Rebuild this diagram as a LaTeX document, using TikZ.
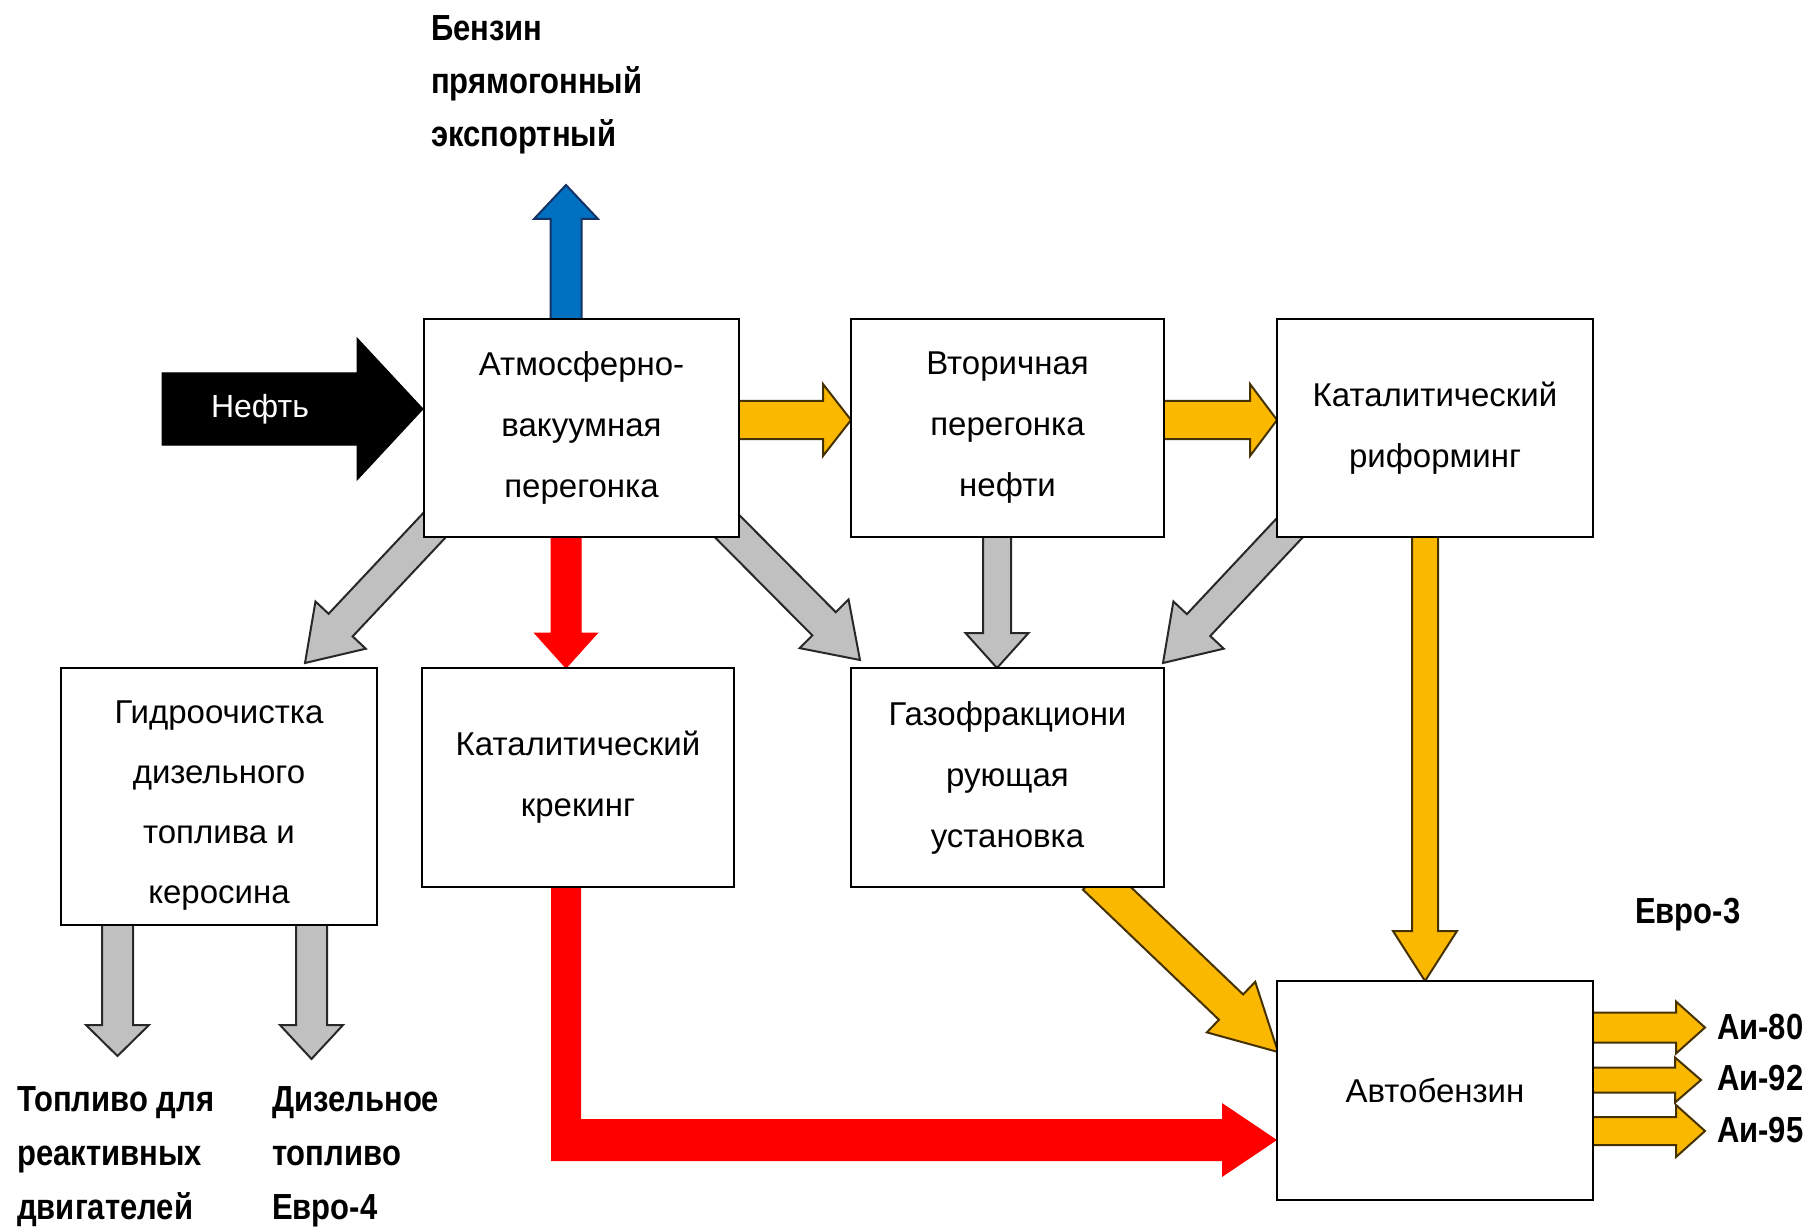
\documentclass[tikz,border=0pt]{standalone}
\usepackage{fontspec}
\usepackage{graphicx}
\setmainfont{Liberation Sans}
\usetikzlibrary{calc}
\pgfdeclarelayer{bg}
\pgfdeclarelayer{arr}
\pgfsetlayers{bg,arr,main}
\definecolor{gold}{RGB}{250,184,0}
\definecolor{goldline}{RGB}{70,50,0}
\definecolor{grayfill}{RGB}{192,192,192}
\definecolor{grayline}{RGB}{40,40,40}
\definecolor{redfill}{RGB}{255,0,0}
\definecolor{bluefill}{RGB}{0,112,192}
\definecolor{blueline}{RGB}{20,50,100}
\newcommand{\tb}[1]{\scalebox{1}[1.17]{#1}}
\tikzset{
  box/.style={draw=black, line width=2pt, fill=white, rectangle, inner sep=0pt, align=center,
    font=\fontsize{33}{61}\selectfont},
  boxtext/.style={inner sep=0pt, align=center, font=\fontsize{33}{60}\selectfont},
  lbl/.style={anchor=west, align=left, inner sep=0pt, font=\bfseries\fontsize{31}{53}\selectfont},
  ya/.style={fill=gold, draw=goldline, line width=2pt},
  ga/.style={fill=grayfill, draw=grayline, line width=2pt},
  ra/.style={fill=redfill, draw=redfill, line width=1pt},
  ba/.style={fill=bluefill, draw=blueline, line width=2pt},
  ka/.style={fill=black, draw=black, line width=1pt},
}
% #1 style, #2 start, #3 tip, #4 half shaft, #5 half head, #6 head length
\newcommand{\fatarrow}[6]{%
  \draw[#1] let \p1=(#2), \p2=(#3), \n1={atan2(\y2-\y1,\x2-\x1)},
      \n2={veclen(\x2-\x1,\y2-\y1)-#6} in
    ($(\p1)+({\n1+90}:#4pt)$)
    -- ($(\p1)+(\n1:{\n2+0pt})+({\n1+90}:#4pt)$)
    -- ($(\p1)+(\n1:{\n2+0pt})+({\n1+90}:#5pt)$)
    -- (\p2)
    -- ($(\p1)+(\n1:{\n2+0pt})+({\n1-90}:#5pt)$)
    -- ($(\p1)+(\n1:{\n2+0pt})+({\n1-90}:#4pt)$)
    -- ($(\p1)+({\n1-90}:#4pt)$) -- cycle;}
\begin{document}
\begin{tikzpicture}[x=1pt,y=-1pt]
\useasboundingbox (0,0) rectangle (1810,1230);
\begin{pgfonlayer}{bg}
  \fill[white] (0,0) rectangle (1810,1230);
\end{pgfonlayer}

% boxes
\node[box, minimum width=315pt, minimum height=218pt] (atm) at (581.5,428) {Атмосферно-\\вакуумная\\перегонка};
\node[box, minimum width=313pt, minimum height=218pt] (vtor) at (1007.5,428) {Вторичная\\перегонка\\нефти};
\node[box, minimum width=316pt, minimum height=218pt] (ref) at (1435,428) {Каталитический\\риформинг};
\node[box, minimum width=316pt, minimum height=257pt] (gidro) at (219,796.5) {};
\node[boxtext] (gidrotext) at ($(gidro.center)+(0,9)$) {Гидроочистка\\дизельного\\топлива и\\керосина};
\node[box, minimum width=312pt, minimum height=219pt] (krek) at (578,777.5) {Каталитический\\крекинг};
\node[box, minimum width=313pt, minimum height=219pt] (gaz) at (1007.5,777.5) {Газофракциони\\рующая\\установка};
\node[box, minimum width=316pt, minimum height=219pt] (avto) at (1435,1090.5) {Автобензин};

% coordinates for arrow ends
\coordinate (neftS) at (162,409);
\coordinate (benzT) at (566,185);
\coordinate (gidroT1) at (117.5,1056);
\coordinate (gidroT2) at (311.5,1059);

\begin{pgfonlayer}{arr}
  \fatarrow{ka}{neftS}{atm.west |- neftS}{36}{71}{66}
  \fatarrow{ba}{566,330}{benzT}{15.5}{32}{34}
  \fatarrow{ya}{730,420}{851,420}{19}{36}{28}
  \fatarrow{ya}{1155,420}{1277,420}{19}{36}{27}
  \fatarrow{ga}{445,514}{305,663}{16.5}{34.5}{52}
  \fatarrow{ra}{566,530}{566,668}{15}{31.5}{35}
  \fatarrow{ga}{718,517}{860,660}{16.5}{34.5}{51}
  \fatarrow{ga}{997,530}{997,668}{14}{31.5}{35}
  \fatarrow{ga}{1298,519}{1163,663}{16}{34.5}{52}
  \fatarrow{ya}{1425,530}{1425,981}{13}{32}{50}
  \fatarrow{ya}{1095,877}{1278,1052}{17.5}{35}{65}
  \fatarrow{ga}{117.5,920}{gidroT1}{15.5}{31.5}{31}
  \fatarrow{ga}{311.5,920}{gidroT2}{15.5}{31.5}{34}
  \fill[redfill] (551,880) -- (551,1161) -- (1222,1161) -- (1222,1177) -- (1277,1140)
     -- (1222,1103) -- (1222,1119) -- (581,1119) -- (581,880) -- cycle;
  \fatarrow{ya}{1585,1027.5}{1705,1027.5}{15}{26}{29}
  \fatarrow{ya}{1585,1080}{1701,1080}{12.5}{22.5}{26}
  \fatarrow{ya}{1585,1131}{1705,1131}{14}{26}{29}
\end{pgfonlayer}

% labels
\node[text=white, font=\fontsize{32}{38}\selectfont, inner sep=0pt] (neft) at (260,409) {Нефть};
\node[lbl] (benz) at (431,85) {\tb{Бензин}\\\tb{прямогонный}\\\tb{экспортный}};
\node[lbl, font=\bfseries\fontsize{31}{54}\selectfont] (jet) at (17,1157) {\tb{Топливо для}\\\tb{реактивных}\\\tb{двигателей}};
\node[lbl, font=\bfseries\fontsize{31}{54}\selectfont] (diz) at (272,1157) {\tb{Дизельное}\\\tb{топливо}\\\tb{Евро-4}};
\node[lbl] (euro3) at (1635,915) {\tb{Евро-3}};
\node[lbl] (ai80) at (1717,1027) {\tb{Аи-80}};
\node[lbl] (ai92) at (1717,1078) {\tb{Аи-92}};
\node[lbl] (ai95) at (1717,1130) {\tb{Аи-95}};
\end{tikzpicture}
\end{document}
